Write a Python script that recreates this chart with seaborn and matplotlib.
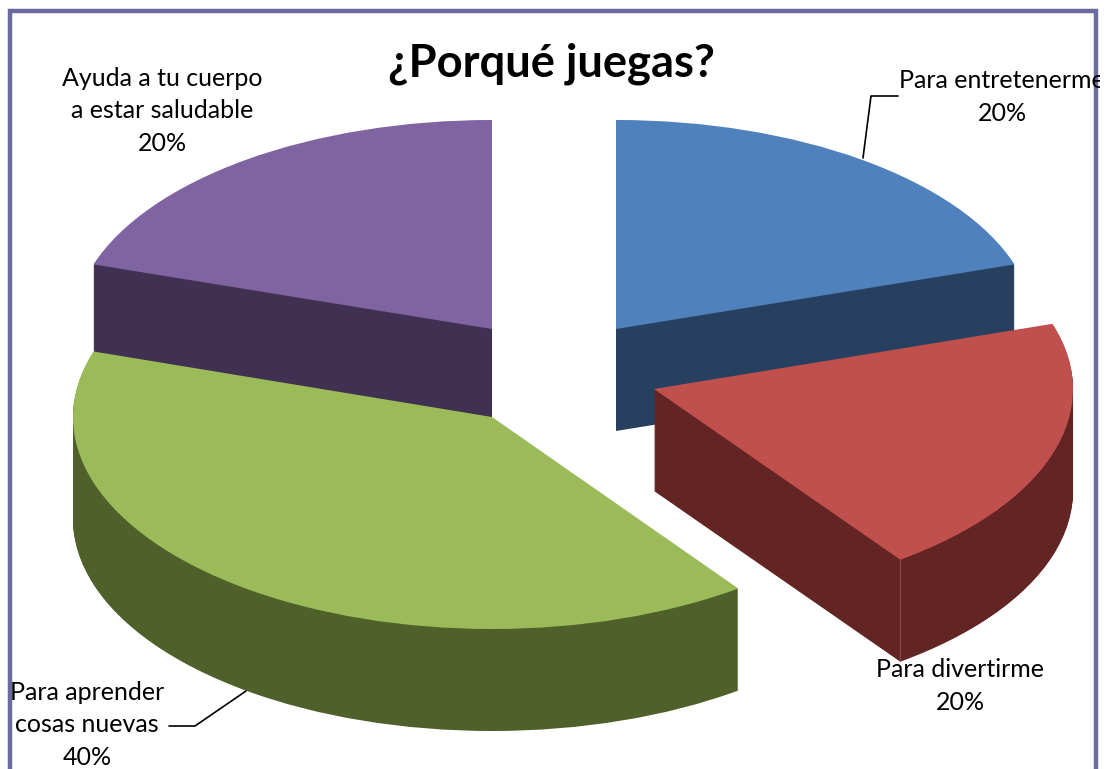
#!/usr/bin/env python3

import matplotlib
matplotlib.use("Agg")
import matplotlib.pyplot as plt
from matplotlib.patches import Rectangle, Wedge
from matplotlib.transforms import Affine2D
import seaborn as sns

title = "¿Porqué juegas?"
categories = [
    "Para entretenerme",
    "Para divertirme",
    "Para aprender\ncosas nuevas",
    "Ayuda a tu cuerpo\na estar saludable",
]
values = [20, 20, 40, 20]

top_colors = ["#4F81BD", "#C0504D", "#9BBB59", "#8064A2"]
side_colors = ["#27405F", "#632523", "#4F602B", "#403152"]

# Each slice sits on its own spot, these are picture pixels
centers = [(616, 329), (654, 389), (492, 417), (492, 329)]
heights = [209, 211, 212, 209]
layers = [1, 2, 2, 1]
label_spots = [(1002, 97), (960, 686), (87, 725), (162, 111)]

RX = 419
DEPTH = 102

sns.set_theme(style="white")
plt.rcParams["font.family"] = ["Lato", "DejaVu Sans"]


def place(cx, cy, ry, ax):
    return Affine2D().scale(RX, -ry).translate(cx, cy) + ax.transData


def main():
    fig = plt.figure(figsize=(11.05, 7.69), dpi=100)
    ax = fig.add_axes([0, 0, 1, 1])

    wedges, _ = ax.pie(
        values,
        colors=sns.color_palette(top_colors),
        startangle=90,
        counterclock=False,
        frame=True,
        wedgeprops={"linewidth": 0},
    )
    ax.set_aspect("auto")
    ax.set_xlim(0, 1105)
    ax.set_ylim(769, 0)
    ax.axis("off")

    # Stack dark copies downward for the thickness, then the face on top
    for wedge, (cx, cy), ry, layer, side in zip(wedges, centers, heights, layers, side_colors):
        for k in range(DEPTH, 0, -1):
            copy = Wedge((0, 0), 1, wedge.theta1, wedge.theta2, facecolor=side, linewidth=0)
            copy.set_transform(place(cx, cy + k, ry, ax))
            copy.set_zorder(layer * 2)
            ax.add_patch(copy)
        wedge.set_transform(place(cx, cy, ry, ax))
        wedge.set_zorder(layer * 2 + 1)

    # Faint edge on the red slice
    ax.plot([900, 900], [560, 661], color="#8A4A48", lw=0.8, zorder=5)

    # Chart frame, the bottom runs off the picture
    ax.plot([10, 10, 1096, 1096], [769, 11, 11, 769], color="#6B6BA0", lw=3.2,
            solid_joinstyle="miter", zorder=6)

    # Leader lines
    ax.plot([863, 871, 898], [158, 96, 96], color="black", lw=1.2, zorder=7)
    ax.plot([246, 195, 169], [691, 726, 726], color="black", lw=1.2, zorder=7)

    # The reference cuts its outer labels at about the frame
    clip = Rectangle((12, 0), 1088, 769, transform=ax.transData)
    for name, value, (x, y) in zip(categories, values, label_spots):
        text = ax.text(x, y, f"{name}\n{value}%", ha="center", va="center",
                       fontsize=18, color="black", linespacing=1.52, zorder=8,
                       clip_on=True)
        text.set_clip_path(clip)

    ax.text(551, 64, title, ha="center", va="center", fontsize=32.7,
            fontweight="bold", color="black", zorder=8)

    fig.savefig("out.png", dpi=100, facecolor="white")


if __name__ == "__main__":
    main()
